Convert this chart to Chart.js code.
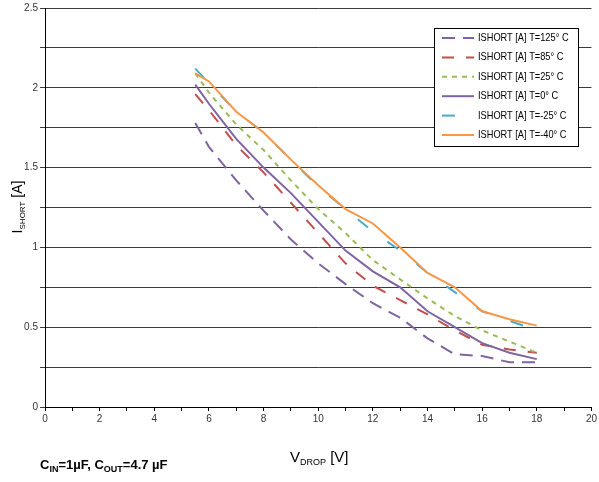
<!DOCTYPE html>
<html>
<head>
<meta charset="utf-8">
<script src="https://cdn.jsdelivr.net/npm/chart.js@4"></script>
<style>
  html, body { margin: 0; padding: 0; background: #fff; }
  #wrap { width: 599px; height: 482px; }
</style>
</head>
<body>
<div id="wrap"><canvas id="chart" width="599" height="482"></canvas></div>
<script>
const vDrop = [5.5, 6, 7, 8, 9, 10, 11, 12, 13, 14, 15, 16, 17, 18];

const seriesNames = [
    'ISHORT [A] T=125° C',
    'ISHORT [A] T=85° C',
    'ISHORT [A] T=25° C',
    'ISHORT [A] T=0° C',
    'ISHORT [A] T=-25° C',
    'ISHORT [A] T=-40° C',
];

const iShort125 = [1.78, 1.63, 1.42, 1.23, 1.05, 0.90, 0.77, 0.65, 0.56, 0.43, 0.33, 0.32, 0.28, 0.28];
const iShort85 = [1.96, 1.86, 1.64, 1.47, 1.28, 1.09, 0.90, 0.76, 0.67, 0.58, 0.48, 0.39, 0.36, 0.34];
const iShort25 = [2.09, 1.97, 1.77, 1.61, 1.42, 1.24, 1.09, 0.92, 0.80, 0.68, 0.57, 0.48, 0.41, 0.34];
const iShort0 = [2.02, 1.90, 1.68, 1.50, 1.34, 1.16, 0.98, 0.85, 0.75, 0.60, 0.50, 0.40, 0.34, 0.30];
const iShortM25 = [2.12, 2.03, 1.85, 1.72, 1.55, 1.38, 1.24, 1.10, 0.98, 0.84, 0.72, 0.60, 0.54, 0.48];
const iShortM40 = [2.09, 2.04, 1.85, 1.72, 1.55, 1.39, 1.24, 1.15, 1.00, 0.84, 0.75, 0.60, 0.55, 0.51];

const xTicks = [0, 2, 4, 6, 8, 10, 12, 14, 16, 18, 20];
const yTicks = [0, 0.5, 1, 1.5, 2, 2.5];

const styles = [
    { color: '#8064A2', dash: [13, 8] },
    { color: '#C0504D', dash: [12, 12] },
    { color: '#9BBB59', dash: [5, 5] },
    { color: '#8064A2', dash: [] },
    { color: '#4BACC6', dash: [13, 24] },
    { color: '#F79646', dash: [] },
];

const allValues = [iShort125, iShort85, iShort25, iShort0, iShortM25, iShortM40];

const datasets = allValues.map((vals, i) => ({
    label: seriesNames[i],
    data: vals.map((v, k) => ({ x: vDrop[k], y: v })),
    borderColor: styles[i].color,
    borderDash: styles[i].dash,
    borderWidth: 2,
    pointRadius: 0,
    fill: false,
    tension: 0,
    order: allValues.length - i,
}));

// draws text with a subscript part
function drawSub(ctx, x, y, parts) {
    let cx = x;
    parts.forEach(p => {
        ctx.font = p.font;
        ctx.fillText(p.text, cx, y + (p.dy || 0));
        cx += ctx.measureText(p.text).width;
    });
    return cx - x;
}

function measureSub(ctx, parts) {
    let w = 0;
    parts.forEach(p => {
        ctx.font = p.font;
        w += ctx.measureText(p.text).width;
    });
    return w;
}

const extrasPlugin = {
    id: 'extras',
    afterDraw(chart) {
        const { ctx } = chart;
        ctx.save();
        ctx.fillStyle = '#000';
        ctx.textBaseline = 'alphabetic';
        ctx.textAlign = 'left';

        // y axis title
        const yParts = [
            { text: 'I', font: '14px "Liberation Sans", Arial, sans-serif' },
            { text: 'SHORT', font: '8px "Liberation Sans", Arial, sans-serif', dy: 3 },
            { text: ' [A]', font: '14px "Liberation Sans", Arial, sans-serif' },
        ];
        const yw = measureSub(ctx, yParts);
        ctx.translate(22, 207);
        ctx.rotate(-Math.PI / 2);
        drawSub(ctx, -yw / 2, 0, yParts);
        ctx.setTransform(1, 0, 0, 1, 0, 0);

        // x axis title
        const xParts = [
            { text: 'V', font: '15px "Liberation Sans", Arial, sans-serif' },
            { text: 'DROP', font: '9px "Liberation Sans", Arial, sans-serif', dy: 3 },
            { text: ' [V]', font: '15px "Liberation Sans", Arial, sans-serif' },
        ];
        drawSub(ctx, 290, 462, xParts);

        // capacitor note
        const cParts = [
            { text: 'C', font: 'bold 13px "Liberation Sans", Arial, sans-serif' },
            { text: 'IN', font: 'bold 9px "Liberation Sans", Arial, sans-serif', dy: 3 },
            { text: '=1µF, C', font: 'bold 13px "Liberation Sans", Arial, sans-serif' },
            { text: 'OUT', font: 'bold 9px "Liberation Sans", Arial, sans-serif', dy: 3 },
            { text: '=4.7 µF', font: 'bold 13px "Liberation Sans", Arial, sans-serif' },
        ];
        drawSub(ctx, 40, 469, cParts);

        // legend box
        const lx = 434, ly = 28, lw = 144, lh = 118;
        ctx.fillStyle = '#fff';
        ctx.fillRect(lx, ly, lw, lh);
        ctx.strokeStyle = '#000';
        ctx.lineWidth = 1;
        ctx.strokeRect(lx + 0.5, ly + 0.5, lw, lh);
        ctx.font = '11px "Liberation Sans", Arial, sans-serif';
        ctx.textBaseline = 'middle';
        seriesNames.forEach((name, i) => {
            const y = 38 + i * 19.4;
            ctx.strokeStyle = styles[i].color;
            ctx.lineWidth = 2;
            ctx.setLineDash(styles[i].dash);
            ctx.beginPath();
            ctx.moveTo(442, y);
            ctx.lineTo(474, y);
            ctx.stroke();
            ctx.setLineDash([]);
            ctx.fillStyle = '#000';
            // condensed look: squeeze text horizontally
            const sx = 0.84;
            ctx.save();
            ctx.translate(478, y);
            ctx.scale(sx, 1);
            ctx.fillText(name, 0, 0);
            ctx.restore();
        });
        ctx.restore();
    },
};

const tickFont = { family: '"Liberation Sans", Arial, sans-serif', size: 10 };

new Chart(document.getElementById('chart'), {
    type: 'line',
    data: { datasets },
    plugins: [extrasPlugin],
    options: {
        responsive: false,
        animation: false,
        layout: { padding: { top: 8, right: 6, left: 0, bottom: 0 } },
        plugins: {
            legend: { display: false },
            tooltip: { enabled: false },
        },
        scales: {
            x: {
                type: 'linear',
                min: 0,
                max: 20,
                afterFit(scale) { scale.height = 75; },
                afterBuildTicks(scale) {
                    scale.ticks = Array.from({ length: 21 }, (_, k) => ({ value: k }));
                },
                ticks: {
                    color: '#333',
                    font: tickFont,
                    padding: 2,
                    maxRotation: 0,
                    autoSkip: false,
                    callback: v => (xTicks.includes(v) ? String(v) : ''),
                },
                grid: {
                    drawOnChartArea: false,
                    drawTicks: true,
                    tickLength: 4,
                    color: '#000',
                },
                border: { color: '#000', width: 1 },
            },
            y: {
                min: 0,
                max: 2.5,
                afterFit(scale) { scale.width = 45; },
                afterBuildTicks(scale) {
                    scale.ticks = Array.from({ length: 11 }, (_, k) => ({ value: k * 0.25 }));
                },
                ticks: {
                    color: '#333',
                    font: tickFont,
                    padding: 2,
                    autoSkip: false,
                    callback: v => (yTicks.includes(v) ? String(v) : ''),
                },
                grid: {
                    color: '#3a3a3a',
                    lineWidth: 1,
                    drawTicks: true,
                    tickLength: 5,
                },
                border: { color: '#000', width: 1 },
            },
        },
    },
});
</script>
</body>
</html>
